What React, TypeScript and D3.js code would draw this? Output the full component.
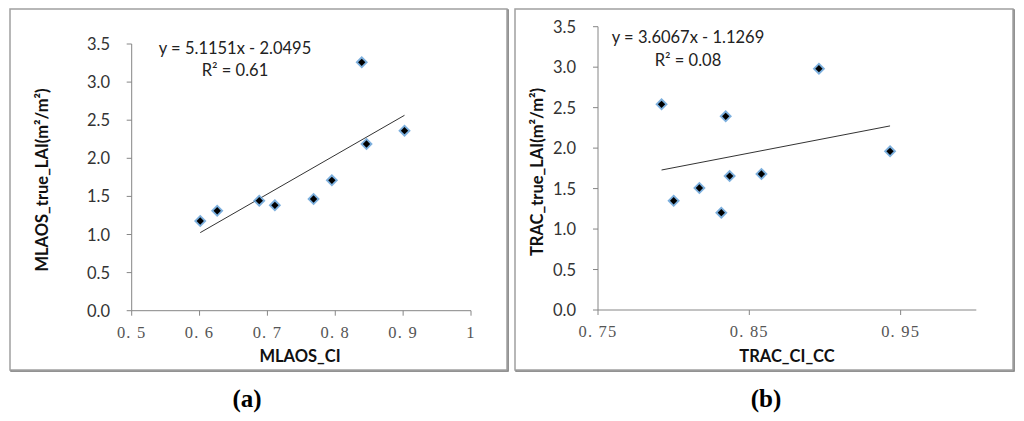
import React from "react";
import * as d3 from "d3";

// Panel (a) data: MLAOS
const mlaosCI = [0.601, 0.626, 0.688, 0.711, 0.768, 0.795, 0.839, 0.846, 0.902];
const mlaosLAI = [1.177, 1.312, 1.444, 1.383, 1.466, 1.711, 3.26, 2.188, 2.362];
const mlaosSlope = 5.1151;
const mlaosIntercept = -2.0495;
const mlaosXTicks = [0.5, 0.6, 0.7, 0.8, 0.9, 1.0];
const mlaosXTickLabels = ["0. 5", "0. 6", "0. 7", "0. 8", "0. 9", "1"];

// Panel (b) data: TRAC
const tracCI = [0.792, 0.8, 0.817, 0.8315, 0.8344, 0.837, 0.858, 0.896, 0.943];
const tracLAI = [2.541, 1.35, 1.507, 1.202, 2.393, 1.655, 1.68, 2.981, 1.96];
const tracSlope = 3.6067;
const tracIntercept = -1.1269;
const tracXTicks = [0.75, 0.85, 0.95];
const tracXTickLabels = ["0. 75", "0. 85", "0. 95"];

const yTicks = [0, 0.5, 1.0, 1.5, 2.0, 2.5, 3.0, 3.5];

type PanelProps = {
  frame: [number, number, number, number];
  xDomain: [number, number];
  xRange: [number, number];
  yRange: [number, number];
  xs: number[];
  ys: number[];
  slope: number;
  intercept: number;
  xTicks: number[];
  xTickLabels: string[];
  eq: string;
  r2: string;
  eqX: number;
  eqY: number;
  r2Y: number;
  xTitle: string;
  xTitleX: number;
  yTitle: string;
  yTitleX: number;
  yTitleY: number;
  yLabelX: number;
  caption: string;
  captionX: number;
};

const sans = "Lato, 'Open Sans', sans-serif";

function Panel(p: PanelProps) {
  const x = d3.scaleLinear().domain(p.xDomain).range(p.xRange);
  const y = d3.scaleLinear().domain([0, 3.5]).range(p.yRange);
  const [fx, fy, fw, fh] = p.frame;
  const x0 = p.xRange[0];
  const y0 = p.yRange[0];
  const xMin = d3.min(p.xs) as number;
  const xMax = d3.max(p.xs) as number;
  const line = d3
    .line<number>()
    .x((d) => x(d))
    .y((d) => y(p.slope * d + p.intercept));
  const outer = d3.symbol().type(d3.symbolDiamond2).size(100)();
  const inner = d3.symbol().type(d3.symbolDiamond2).size(34)();
  const fmt = d3.format(".1f");
  return (
    <g>
      <rect x={fx + 1} y={fy + 1} width={fw} height={fh} fill="none" stroke="#6f6f6f" strokeWidth={1.5} />
      <rect x={fx} y={fy} width={fw} height={fh} fill="#fff" stroke="#a0a0a0" strokeWidth={1.5} />
      {/* axes */}
      <line x1={x0} x2={x0} y1={p.yRange[1]} y2={y0} stroke="#868686" strokeWidth={1} />
      <line x1={x0} x2={p.xRange[1]} y1={y0} y2={y0} stroke="#868686" strokeWidth={1} />
      {yTicks.map((t) => (
        <g key={"y" + t}>
          <line x1={x0 - 5} x2={x0} y1={y(t)} y2={y(t)} stroke="#868686" />
          <text x={p.yLabelX} y={y(t) + 6} textAnchor="end" fontFamily={sans} fontSize={16.5} fill="#333">
            {fmt(t)}
          </text>
        </g>
      ))}
      {p.xTicks.map((t, i) => (
        <g key={"x" + t}>
          <line x1={x(t)} x2={x(t)} y1={y0} y2={y0 + 5} stroke="#868686" />
          <text
            x={x(t)}
            y={y0 + 27}
            textAnchor="middle"
            fontFamily="'Liberation Serif', serif"
            fontSize={16.5}
            letterSpacing={1.2}
            fill="#555"
            style={{ whiteSpace: "pre" }}
          >
            {p.xTickLabels[i]}
          </text>
        </g>
      ))}
      {/* trend line */}
      <path d={line([xMin, xMax]) || ""} fill="none" stroke="#333" strokeWidth={1} />
      {/* points */}
      {p.xs.map((v, i) => (
        <g key={"p" + i} transform={`translate(${x(v)},${y(p.ys[i])})`}>
          <path d={outer || ""} fill="#5b9bd5" opacity={0.8} />
          <path d={inner || ""} fill="#000" />
        </g>
      ))}
      {/* equation */}
      <text x={p.eqX} y={p.eqY} textAnchor="middle" fontFamily={sans} fontSize={16.5} fill="#222">
        {p.eq}
      </text>
      <text x={p.eqX} y={p.r2Y} textAnchor="middle" fontFamily={sans} fontSize={16.5} fill="#222">
        {p.r2}
      </text>
      {/* titles */}
      <text x={p.xTitleX} y={362} textAnchor="middle" fontFamily={sans} fontWeight="bold" fontSize={16.5} fill="#111">
        {p.xTitle}
      </text>
      <text
        transform={`translate(${p.yTitleX},${p.yTitleY}) rotate(-90)`}
        textAnchor="middle"
        dy={5.5}
        fontFamily={sans}
        fontWeight="bold"
        fontSize={16.5}
        fill="#111"
      >
        {p.yTitle}
      </text>
      <text x={p.captionX} y={407} textAnchor="middle" fontFamily="'Liberation Serif', serif" fontWeight="bold" fontSize={25} fill="#000">
        {p.caption}
      </text>
    </g>
  );
}

export default function App() {
  return (
    <svg
      width={1024}
      height={421}
      style={{ position: "absolute", left: 0, top: 0, display: "block", background: "#fff" }}
    >
      <rect width={1024} height={421} fill="#fff" />
      <Panel
        frame={[10, 9, 497, 361]}
        xDomain={[0.5, 1.0]}
        xRange={[131.7, 471]}
        yRange={[310.7, 44]}
        xs={mlaosCI}
        ys={mlaosLAI}
        slope={mlaosSlope}
        intercept={mlaosIntercept}
        xTicks={mlaosXTicks}
        xTickLabels={mlaosXTickLabels}
        eq="y = 5.1151x - 2.0495"
        r2="R² = 0.61"
        eqX={235}
        eqY={54}
        r2Y={76}
        xTitle="MLAOS_CI"
        xTitleX={300}
        yTitle="MLAOS_true_LAI(m²/m²)"
        yTitleX={42}
        yTitleY={180}
        yLabelX={110}
        caption="(a)"
        captionX={247}
      />
      <Panel
        frame={[515, 9, 498, 361]}
        xDomain={[0.75, 1.0]}
        xRange={[598, 976.3]}
        yRange={[310, 26.7]}
        xs={tracCI}
        ys={tracLAI}
        slope={tracSlope}
        intercept={tracIntercept}
        xTicks={tracXTicks}
        xTickLabels={tracXTickLabels}
        eq="y = 3.6067x - 1.1269"
        r2="R² = 0.08"
        eqX={688}
        eqY={43}
        r2Y={66}
        xTitle="TRAC_CI_CC"
        xTitleX={787}
        yTitle="TRAC_true_LAI(m²/m²)"
        yTitleX={537}
        yTitleY={172}
        yLabelX={576}
        caption="(b)"
        captionX={766}
      />
    </svg>
  );
}
